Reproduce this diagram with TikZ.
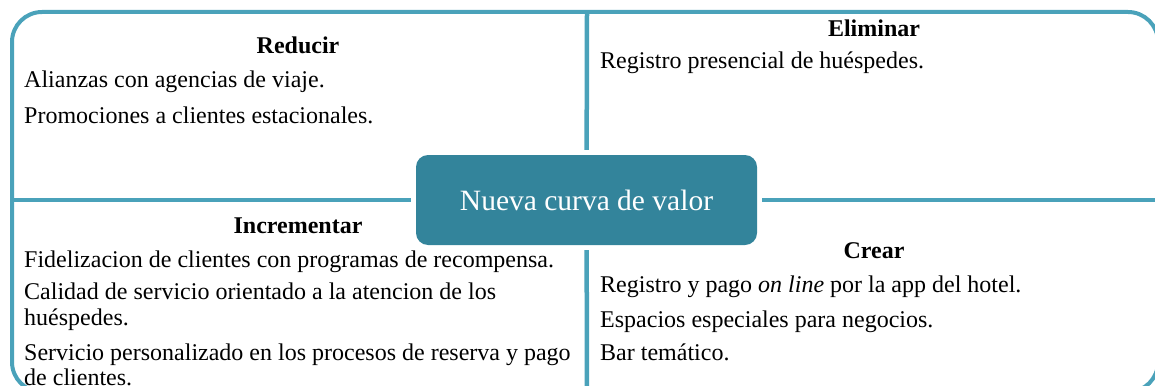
\documentclass[tikz,border=0pt]{standalone}
\usepackage{fontspec}
\setmainfont{Liberation Serif}
\definecolor{lineteal}{HTML}{4AA2BA}
\definecolor{fillteal}{HTML}{33849B}
\tikzset{
  frame/.style={draw=lineteal, line width=4pt},
  divider/.style={draw=lineteal, line width=4.5pt, shorten >=5pt},
  centerbox/.style={fill=fillteal, rounded corners=12pt, minimum width=341pt, minimum height=90pt,
    text=white, font=\fontsize{29.5}{34}\selectfont, inner sep=0pt},
  head/.style={anchor=base, inner sep=0pt, font=\fontsize{24}{27}\selectfont\bfseries},
  item/.style={anchor=base west, inner sep=0pt, font=\fontsize{24}{27}\selectfont},
}
\begin{document}
\begin{tikzpicture}[x=1pt,y=-1pt]
\useasboundingbox (0,0) rectangle (1155,385);
\begin{scope}
\clip (0,0) rectangle (1155,385);
\draw[frame, rounded corners=30pt] (300,392) -- (12,392) -- (12,12) -- (1158,12) -- (1158,392) -- cycle;
\coordinate (tN) at (587,12);
\coordinate (bS) at (587,392);
\coordinate (lW) at (12,200);
\coordinate (rE) at (1158,200);
\node[centerbox] (c) at (586.5,200) {Nueva curva de valor};
\draw[divider] (tN) -- (c);
\draw[divider] (bS) -- (c);
\draw[divider] (lW) -- (c);
\draw[divider] (rE) -- (c);
% Reducir
\node[head] (h1) at (298,54) {Reducir};
\node[item] (r1) at (24,88) {Alianzas con agencias de viaje.};
\node[item] (r2) at (24,123) {Promociones a clientes estacionales.};
% Eliminar
\node[head] (h2) at (874,37) {Eliminar};
\node[item] (e1) at (600,69) {Registro presencial de huéspedes.};
% Incrementar
\node[head] (h3) at (298,233) {Incrementar};
\node[item] (i1) at (24,267) {Fidelizacion de clientes con programas de recompensa.};
\node[item] (i2a) at (24,299) {Calidad de servicio orientado a la atencion de los};
\node[item] (i2b) at (24,325) {huéspedes.};
\node[item] (i3a) at (24,360) {Servicio personalizado en los procesos de reserva y pago};
\node[item] (i3b) at (24,385) {de clientes.};
% Crear
\node[head] (h4) at (874,258) {Crear};
\node[item] (k1) at (600,292) {Registro y pago \textit{on line} por la app del hotel.};
\node[item] (k2) at (600,327) {Espacios especiales para negocios.};
\node[item] (k3) at (600,360) {Bar temático.};
\end{scope}
\end{tikzpicture}
\end{document}
